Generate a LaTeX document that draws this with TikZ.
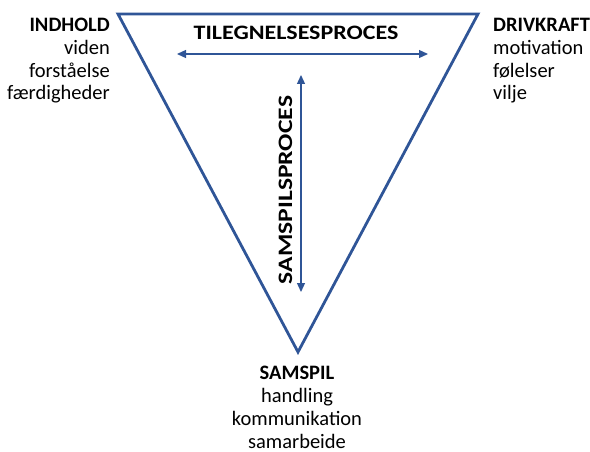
\documentclass[tikz,border=0pt]{standalone}
\usepackage{fontspec}
\setmainfont{Carlito}
\usetikzlibrary{arrows.meta}
\definecolor{triblue}{RGB}{47,85,151}
\tikzset{
    tri-line/.style = {draw=triblue, line width=2.8pt, line join=miter},
    proc-arrow/.style = {draw=triblue, line width=1.3pt, {Triangle[length=9pt,width=8pt]}-{Triangle[length=9pt,width=8pt]}},
    corner-text/.style = {inner sep=0pt, font=\fontsize{20.5}{23}\selectfont},
    proc-title/.style = {inner sep=0pt, font=\fontsize{20.5}{23}\selectfont\bfseries},
}

\begin{document}
\begin{tikzpicture}[x=1pt,y=-1pt]
\useasboundingbox (0,0) rectangle (590,452);
% the triangle
\coordinate (indhold) at (118,14);
\coordinate (drivkraft) at (478,14);
\coordinate (samspil) at (298,352);
\draw[tri-line] (indhold) -- (drivkraft) -- (samspil) -- cycle;

% processes
\node[proc-title, anchor=base, xscale=1.17] (tilegnelse) at (296,40) {TILEGNELSESPROCES};
\coordinate (tilegnelse-l) at (177,54);
\coordinate (tilegnelse-r) at (428,54);
\draw[proc-arrow] (tilegnelse-l) -- (tilegnelse-r);

\node[proc-title, anchor=base, rotate=90, xscale=1.25] (samspilsproces) at (292,190) {SAMSPILSPROCES};
\coordinate (samspilsproces-t) at (301,75);
\coordinate (samspilsproces-b) at (301,292);
\draw[proc-arrow] (samspilsproces-t) -- (samspilsproces-b);

% corner texts (base = last line)
\node[corner-text, align=right, anchor=base east] (indhold-text) at (110,100)
    {\textbf{INDHOLD}\\viden\\forståelse\\færdigheder};
\node[corner-text, align=left, anchor=base west] (drivkraft-text) at (493,100)
    {\textbf{DRIVKRAFT}\\motivation\\følelser\\vilje};
\node[corner-text, align=center, anchor=base] (samspil-text) at (297,448)
    {\textbf{SAMSPIL}\\handling\\kommunikation\\samarbeide};
\end{tikzpicture}
\end{document}
